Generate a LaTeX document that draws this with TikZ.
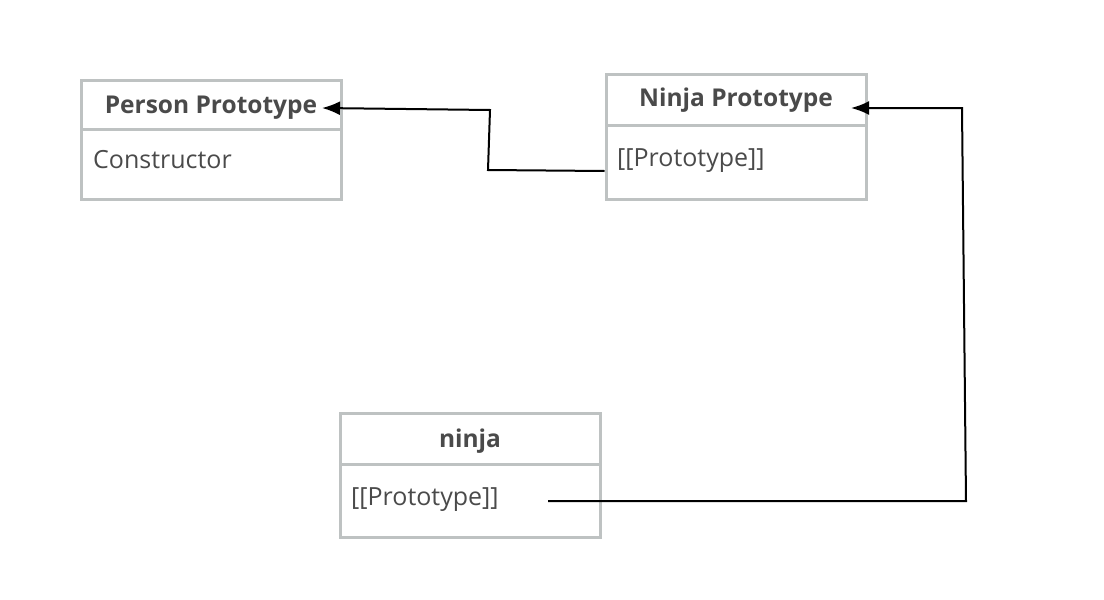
\documentclass[tikz,border=0pt]{standalone}
\usepackage{fontspec}
\setmainfont{Open Sans}
\usetikzlibrary{arrows.meta}

\definecolor{boxgray}{HTML}{BEC2C2}
\definecolor{textgray}{HTML}{4A4A4A}

\tikzset{
    umlbox/.style={draw=boxgray, line width=3pt, minimum width=260pt, inner sep=0pt},
    headtext/.style={text=textgray, font=\fontsize{24.5}{28}\selectfont\bfseries, anchor=base, inner sep=0pt},
    bodytext/.style={text=textgray, font=\fontsize{25}{28}\selectfont, anchor=base west, inner sep=0pt},
    link/.style={line width=2pt, -{Latex[length=18pt,width=14pt]}}
}

\begin{document}
\begin{tikzpicture}[x=1pt, y=-1pt]
    \useasboundingbox (0,0) rectangle (1104,600);

    % Person Prototype
    \node[umlbox, minimum height=119pt] (person) at (211,139.5) {};
    \draw[boxgray, line width=3pt] (81,129) -- (341,129);
    \node[headtext] (personhead) at (211,113) {Person Prototype};
    \node[bodytext] (personbody) at (93,168) {Constructor};

    % Ninja Prototype
    \node[umlbox, minimum height=125pt] (ninjaproto) at (736,136.5) {};
    \draw[boxgray, line width=3pt] (606,125) -- (866,125);
    \node[headtext] (ninjaprotohead) at (736,106) {Ninja Prototype};
    \node[bodytext] (ninjaprotobody) at (617,166) {[[Prototype]]};

    % ninja object
    \node[umlbox, minimum height=124pt] (ninja) at (470,475) {};
    \draw[boxgray, line width=3pt] (340,464) -- (600,464);
    \node[headtext] (ninjahead) at (470,447) {ninja};
    \node[bodytext] (ninjabody) at (351,505) {[[Prototype]]};

    % connector end points
    \coordinate (personin) at (322,108);
    \coordinate (protoout) at (ninjaproto.west |- 0,171);
    \coordinate (protoin) at (851,108);
    \coordinate (ninjaout) at (548,501);

    % prototype links
    \draw[link] (protoout) -- (488,170) -- (490,110) -- (personin);
    \draw[link] (ninjaout) -- (966,501) -- (962,108) -- (protoin);
\end{tikzpicture}
\end{document}
